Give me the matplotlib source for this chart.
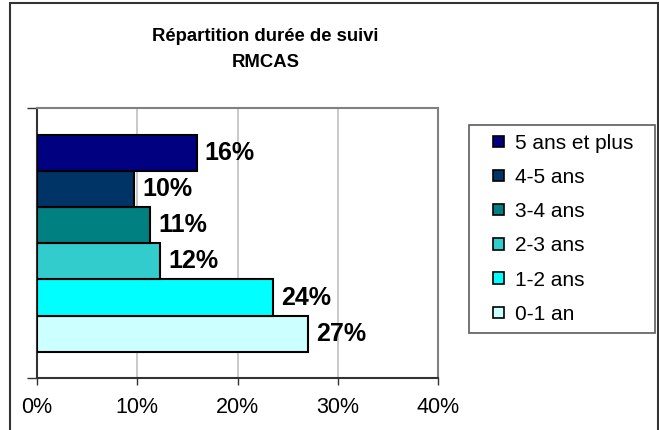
import matplotlib
matplotlib.use("Agg")
import matplotlib.pyplot as plt
from matplotlib.patches import Patch, Rectangle
from matplotlib.legend_handler import HandlerPatch

categories = ["0-1 an", "1-2 ans", "2-3 ans", "3-4 ans", "4-5 ans", "5 ans et plus"]
values = [0.270, 0.235, 0.123, 0.113, 0.097, 0.159]
value_labels = ["27%", "24%", "12%", "11%", "10%", "16%"]
colors = ["#CCFFFF", "#00FFFF", "#33CCCC", "#008080", "#003366", "#000080"]
xticks = [0.0, 0.1, 0.2, 0.3, 0.4]
xtick_labels = ["0%", "10%", "20%", "30%", "40%"]
title_lines = ["Répartition durée de suivi", "RMCAS"]

plt.rcParams['font.family'] = ['Liberation Sans', 'DejaVu Sans']

W, H = 659, 430
fig = plt.figure(figsize=(W / 100, H / 100), dpi=100)
fig.patch.set_facecolor("white")

# outer chart border
fig.add_artist(Rectangle((10 / W, -0.05), (658 - 10) / W, (H - 3) / H + 0.05,
                         transform=fig.transFigure, fill=False,
                         edgecolor="#333333", linewidth=1.5))

left, right = 37 / W, 438.3 / W
bottom, top = (H - 377.7) / H, (H - 108.3) / H
ax = fig.add_axes([left, bottom, right - left, top - bottom])

ypos = list(range(len(categories)))
bars = ax.barh(ypos, values, height=1.0, color=colors, edgecolor="black",
               linewidth=1.5, zorder=3)
for b, lab in zip(bars, value_labels):
    ax.text(b.get_width() + 0.008, b.get_y() + b.get_height() / 2, lab,
            ha="left", va="center", fontsize=18, fontweight="bold", zorder=4)

ax.set_xlim(0, 0.4)
ylo, yhi = -0.5 - 0.72, 5.5 + 0.74
ax.set_ylim(ylo, yhi)
ax.set_xticks(xticks)
ax.set_xticklabels(xtick_labels, fontsize=15.5)
ax.set_yticks([ylo, yhi])
ax.set_yticklabels([])
ax.tick_params(axis="x", direction="out", length=5, width=1, color="#333333", pad=9)
ax.tick_params(axis="y", direction="out", length=7, width=1, color="#333333")
ax.xaxis.grid(True, color="#C0C0C0", linewidth=1.2, zorder=0)
ax.set_axisbelow(True)

for s in ["top", "right"]:
    ax.spines[s].set_color("#808080")
    ax.spines[s].set_linewidth(1.5)
for s in ["left", "bottom"]:
    ax.spines[s].set_color("#333333")
    ax.spines[s].set_linewidth(1.5)

# title
tx = 265.5 / W
fig.text(tx, 1 - 41 / H, title_lines[0], ha="center", va="baseline",
         fontsize=13.3, fontweight="bold")
fig.text(tx, 1 - 67 / H, title_lines[1], ha="center", va="baseline",
         fontsize=13.3, fontweight="bold")


def square_patch(legend, orig_handle, xdescent, ydescent, width, height, fontsize):
    return Rectangle((-xdescent + width - height, -ydescent), height, height)


# legend (top entry = last series)
handles = [Patch(facecolor=c, edgecolor="black", linewidth=1.2) for c in colors][::-1]
labels = categories[::-1]
fs = 15
leg = fig.legend(handles, labels, loc="upper left",
                 bbox_to_anchor=(469 / W, 1 - 125 / H - 0.01, (655 - 469) / W, 0.01),
                 mode="expand", fontsize=fs, frameon=True, fancybox=False,
                 handlelength=1.28, handleheight=0.47, handletextpad=0.5,
                 labelspacing=0.73, borderpad=0.42, borderaxespad=0,
                 handler_map={Patch: HandlerPatch(patch_func=square_patch)})
leg.get_frame().set_edgecolor("#333333")
leg.get_frame().set_linewidth(1.2)
leg._legend_box.align = "left"

fig.savefig("out.png", dpi=100)
